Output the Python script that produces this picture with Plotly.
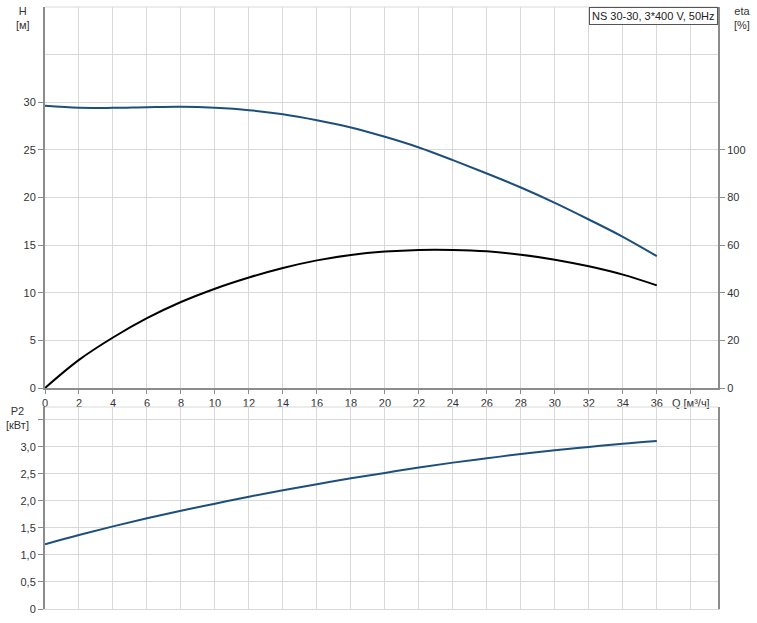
import plotly.graph_objects as go

q = [0, 2, 4, 6, 8, 10, 12, 14, 16, 18, 20, 22, 24, 26, 28, 30, 32, 34, 36]
head = [29.62, 29.41, 29.41, 29.48, 29.52, 29.41, 29.17, 28.75, 28.12, 27.35, 26.37, 25.25, 23.92, 22.52, 21.05, 19.44, 17.69, 15.87, 13.84]
eta = [0, 11.8, 21.2, 29.3, 36.1, 41.7, 46.4, 50.4, 53.6, 55.9, 57.3, 58.0, 58.0, 57.4, 56.0, 53.9, 51.1, 47.6, 43.1]
p2 = [1.2, 1.37, 1.53, 1.68, 1.82, 1.95, 2.08, 2.2, 2.31, 2.42, 2.52, 2.62, 2.71, 2.79, 2.87, 2.94, 3.0, 3.06, 3.11]

x_ticks = list(range(0, 40, 2))
x_labels = [str(v) for v in range(0, 38, 2)] + ["Q [м³/ч]"]
h_ticks = [0, 5, 10, 15, 20, 25, 30]
eta_ticks = [0, 20, 40, 60, 80, 100]
p2_ticks = [0, 0.5, 1.0, 1.5, 2.0, 2.5, 3.0, 3.5]
p2_labels = ["0", "0,5", "1,0", "1,5", "2,0", "2,5", "3,0", ""]
title_text = "NS 30-30, 3*400 V, 50Hz"

BLUE = "#1d4f7c"
GRID = "#d9d9d9"
AXIS = "#8c8c8c"
FONT = dict(family="Liberation Sans, Arial", size=11, color="#333333")

fig = go.Figure()
fig.add_trace(go.Scatter(x=q, y=head, mode="lines", line=dict(color=BLUE, width=2, shape="spline"),
                         xaxis="x", yaxis="y", showlegend=False, hoverinfo="skip"))
fig.add_trace(go.Scatter(x=q, y=eta, mode="lines", line=dict(color="#000000", width=2, shape="spline"),
                         xaxis="x", yaxis="y2", showlegend=False, hoverinfo="skip"))
fig.add_trace(go.Scatter(x=q, y=p2, mode="lines", line=dict(color=BLUE, width=2, shape="spline"),
                         xaxis="x2", yaxis="y3", showlegend=False, hoverinfo="skip"))

# plot area (page px): x 45..718, y 7..609
PH = 602.0
top_dom = [(609 - 388) / PH, 1.0]
bot_dom = [0.0, (609 - 407) / PH]
xr = [0, 39.6]

def py(page_y):
    return (609 - page_y) / PH

def px(page_x):
    return (page_x - 45) / 673.0

fig.update_layout(
    width=757, height=623,
    margin=dict(l=45, r=39, t=7, b=14),
    paper_bgcolor="white", plot_bgcolor="white",
    font=FONT,
    xaxis=dict(domain=[0, 1], anchor="y", range=xr, tickvals=x_ticks, ticktext=x_labels,
               showgrid=True, gridcolor=GRID, gridwidth=1, zeroline=False,
               showline=True, linecolor=AXIS, linewidth=2, ticks="outside", ticklen=4,
               tickcolor=AXIS, tickfont=FONT),
    xaxis2=dict(domain=[0, 1], anchor="y3", range=xr, tickvals=x_ticks, showticklabels=False,
                showgrid=True, gridcolor=GRID, gridwidth=1, zeroline=False,
                showline=True, linecolor=GRID, linewidth=1, ticks=""),
    yaxis=dict(domain=top_dom, anchor="x", range=[0, 40], tickvals=h_ticks,
               showgrid=True, gridcolor=GRID, gridwidth=1, zeroline=False,
               showline=True, linecolor=AXIS, linewidth=2, ticks="outside", ticklen=5,
               tickcolor=AXIS, tickfont=FONT, mirror=False,
               minor=dict(tickvals=[35], showgrid=True, gridcolor=GRID, ticks="")),
    yaxis2=dict(domain=top_dom, anchor="x", overlaying="y", side="right", range=[0, 160],
                tickvals=eta_ticks, showgrid=False, zeroline=False,
                showline=True, linecolor=AXIS, linewidth=2, ticks="outside", ticklen=5,
                tickcolor=AXIS, tickfont=FONT),
    yaxis3=dict(domain=bot_dom, anchor="x2", range=[0, 3.74], tickvals=p2_ticks, ticktext=p2_labels,
                showgrid=True, gridcolor=GRID, gridwidth=1, zeroline=False,
                showline=True, linecolor=AXIS, linewidth=2, ticks="outside", ticklen=5,
                tickcolor=AXIS, tickfont=FONT, mirror=True),
    shapes=[
        dict(type="line", xref="paper", yref="paper", x0=0, x1=1, y0=1, y1=1,
             line=dict(color=GRID, width=1)),
        dict(type="line", xref="paper", yref="paper", x0=0, x1=1, y0=bot_dom[1], y1=bot_dom[1],
             line=dict(color=GRID, width=1)),
    ],
    annotations=[
        dict(text=title_text, xref="paper", yref="paper", x=1, y=1, xanchor="right", yanchor="top",
             showarrow=False, bordercolor="#555555", borderwidth=1, borderpad=2, bgcolor="white",
             font=dict(family="Liberation Sans, Arial", size=11, color="#222222")),
        dict(text="H<br>[м]", xref="paper", yref="paper", x=px(23), y=py(18), showarrow=False,
             xanchor="center", yanchor="middle", font=FONT, align="center"),
        dict(text="eta<br>[%]", xref="paper", yref="paper", x=px(742), y=py(18), showarrow=False,
             xanchor="center", yanchor="middle", font=FONT, align="center"),
        dict(text="P2<br>[кВт]", xref="paper", yref="paper", x=px(18), y=py(418), showarrow=False,
             xanchor="center", yanchor="middle", font=FONT, align="center"),
    ],
)

fig.write_html("out.html", config={"displayModeBar": False},
               post_script="document.body.style.margin='0';document.body.style.overflow='hidden';")
